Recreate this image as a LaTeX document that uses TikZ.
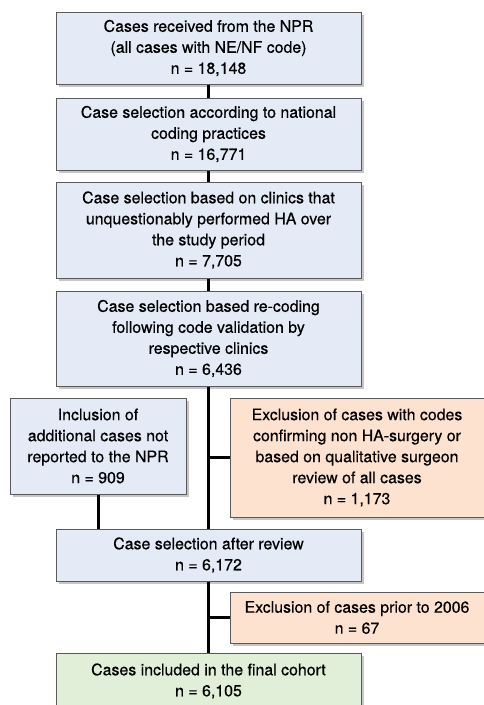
\documentclass[tikz,border=0pt]{standalone}
\usepackage{fontspec}
\setmainfont{TeX Gyre Heros}
\newfontfamily\boxfont[FakeBold=0.5]{TeX Gyre Heros}
\usetikzlibrary{shadows}
\definecolor{boxblue}{HTML}{E4EBF6}
\definecolor{boxorange}{HTML}{FCE2CF}
\definecolor{boxgreen}{HTML}{E2EFD8}
\definecolor{boxline}{HTML}{5A5A5A}

\begin{document}
\begin{tikzpicture}[x=1pt, y=-1pt,
    flowbox/.style={draw=boxline, line width=1pt, fill=boxblue, align=center,
      inner sep=0pt, font=\boxfont\fontsize{15.9}{21}\selectfont,
      drop shadow={shadow xshift=3pt, shadow yshift=-3pt, opacity=0.45, fill=gray}},
    outbox/.style={flowbox, fill=boxorange},
    finalbox/.style={flowbox, fill=boxgreen},
    link/.style={line width=3pt}]
    \useasboundingbox (0,0) rectangle (484,705);

      % Main column
      \node[flowbox, minimum width=305pt, minimum height=72pt] (received) at (208.5, 48)
        {Cases received from the NPR\\(all cases with NE/NF code)\\n = 18,148};
      \node[flowbox, minimum width=305pt, minimum height=72pt] (coding) at (208.5, 134)
        {Case selection according to national\\coding practices\\n = 16,771};
      \node[flowbox, minimum width=305pt, minimum height=96pt] (clinics) at (208.5, 230)
        {Case selection based on clinics that\\unquestionably performed HA over\\the study period\\n = 7,705};
      \node[flowbox, minimum width=305pt, minimum height=95pt] (recoding) at (208.5, 338.5)
        {Case selection based re-coding\\following code validation by\\respective clinics\\n = 6,436};

      % Side boxes
      \node[flowbox, minimum width=176pt, minimum height=96pt] (added) at (98, 446)
        {Inclusion of\\additional cases not\\reported to the NPR\\n = 909};
      \node[outbox, minimum width=254pt, minimum height=119pt] (excluded) at (357, 457.5)
        {Exclusion of cases with codes\\confirming non HA-surgery or\\based on qualitative surgeon\\review of all cases\\n = 1,173};

      \node[flowbox, minimum width=305pt, minimum height=52pt] (review) at (208.5, 555)
        {Case selection after review\\n = 6,172};
      \node[outbox, minimum width=254pt, minimum height=51pt] (prior) at (357, 617.5)
        {Exclusion of cases prior to 2006\\n = 67};
      \node[finalbox, minimum width=305pt, minimum height=56pt] (cohort) at (208.5, 681)
        {Cases included in the final cohort\\n = 6,105};

      % Connectors
      \draw[link] (received) -- (coding);
      \draw[link] (coding) -- (clinics);
      \draw[link] (clinics) -- (recoding);
      \draw[link] (recoding) -- (review);
      \draw[link] (excluded.west) -- (excluded.west -| recoding.south);
      \draw[link] (added.south) -- (added.south |- review.north);
      \draw[link] (review) -- (cohort);
      \draw[link] (prior.west) -- (prior.west -| review.south);
  \end{tikzpicture}
\end{document}
